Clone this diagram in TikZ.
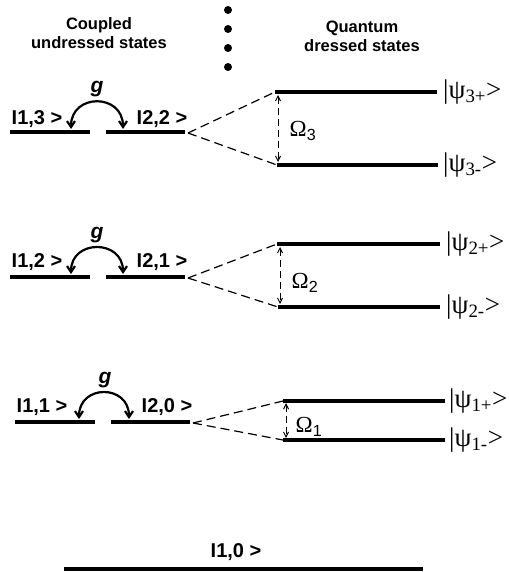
\documentclass[tikz,border=0pt]{standalone}
\usepackage{fontspec}
\setmainfont{Liberation Sans}
\newfontfamily\seriffont{Liberation Serif}
\usetikzlibrary{arrows.meta}
\tikzset{
  lvl/.style={line width=4.5pt},
  dashln/.style={line width=1.2pt, dash pattern=on 9pt off 5pt},
  omarrow/.style={line width=1pt, dash pattern=on 7pt off 4pt, {Straight Barb[length=5pt,width=5pt]}-{Straight Barb[length=5pt,width=5pt]}},
  coup/.style={line width=2.2pt, {Straight Barb[length=6pt,width=8pt]}-{Straight Barb[length=6pt,width=8pt]}},
  ket/.style={font=\bfseries\fontsize{20}{20}\selectfont, inner sep=0pt},
  gl/.style={font=\bfseries\itshape\fontsize{21}{21}\selectfont, inner sep=0pt},
  title/.style={font=\bfseries\fontsize{16.5}{19}\selectfont, align=center, inner sep=0pt},
  psil/.style={font=\seriffont\fontsize{27}{27}\selectfont, anchor=west, inner sep=0pt},
  oml/.style={font=\fontsize{23}{23}\selectfont, inner sep=0pt},
  dot/.style={circle, fill=black, inner sep=0pt, minimum size=8pt},
}
\begin{document}
\begin{tikzpicture}[x=1pt,y=-1pt]
\useasboundingbox (0,0) rectangle (508,572);
% titles
\node[title] (t1) at (99,33) {Coupled\\undressed states};
\node[title] (t2) at (362,36) {Quantum\\dressed states};
% dots
\foreach \i/\yy in {1/10,2/29,3/48,4/67} \node[dot] (d\i) at (228,\yy) {};
% ---------------- level 3
\coordinate (a3l) at (10,132); \coordinate (a3r) at (90,132);
\coordinate (b3l) at (106,132); \coordinate (b3r) at (185,132);
\coordinate (p3l) at (275,92); \coordinate (p3r) at (437,92);
\coordinate (m3l) at (277,165); \coordinate (m3r) at (438,165);
\draw[lvl] (a3l) -- (a3r); \draw[lvl] (b3l) -- (b3r);
\draw[lvl] (p3l) -- (p3r); \draw[lvl] (m3l) -- (m3r);
\node[ket] (k13) at (37,119) {I1,3 >};
\node[ket] (k22) at (162,119) {I2,2 >};
\node[gl] (g3) at (97,89) {g};
\coordinate (c3a) at (71,129); \coordinate (c3b) at (123,129);
\draw[coup] (c3a) .. controls (71,93) and (123,93) .. (c3b);
\coordinate (d3) at (188,133);
\draw[dashln] (d3) -- (p3l); \draw[dashln] (d3) -- (m3l);
\coordinate (o3a) at (278,95); \coordinate (o3b) at (278,162);
\draw[omarrow] (o3a) -- (o3b);
\node[oml] (w3) at (303,131) {{\seriffont Ω}\textsubscript{3}};
\node[psil] (s3p) at (443,92) {|ψ\textsubscript{3+}>};
\node[psil] (s3m) at (443,165) {|ψ\textsubscript{3-}>};
% ---------------- level 2
\coordinate (a2l) at (10,277); \coordinate (a2r) at (90,277);
\coordinate (b2l) at (106,277); \coordinate (b2r) at (185,277);
\coordinate (p2l) at (277,244); \coordinate (p2r) at (440,244);
\coordinate (m2l) at (278,307); \coordinate (m2r) at (440,307);
\draw[lvl] (a2l) -- (a2r); \draw[lvl] (b2l) -- (b2r);
\draw[lvl] (p2l) -- (p2r); \draw[lvl] (m2l) -- (m2r);
\node[ket] (k12) at (37,262) {I1,2 >};
\node[ket] (k21) at (162,262) {I2,1 >};
\node[gl] (g2) at (97,235) {g};
\coordinate (c2a) at (71,274); \coordinate (c2b) at (123,274);
\draw[coup] (c2a) .. controls (71,239) and (123,239) .. (c2b);
\coordinate (d2) at (188,278);
\draw[dashln] (d2) -- (p2l); \draw[dashln] (d2) -- (m2l);
\coordinate (o2a) at (280,247); \coordinate (o2b) at (280,304);
\draw[omarrow] (o2a) -- (o2b);
\node[oml] (w2) at (305,283) {{\seriffont Ω}\textsubscript{2}};
\node[psil] (s2p) at (446,244) {|ψ\textsubscript{2+}>};
\node[psil] (s2m) at (446,307) {|ψ\textsubscript{2-}>};
% ---------------- level 1
\coordinate (a1l) at (15,422); \coordinate (a1r) at (95,422);
\coordinate (b1l) at (111,422); \coordinate (b1r) at (190,422);
\coordinate (p1l) at (283,401); \coordinate (p1r) at (445,401);
\coordinate (m1l) at (283,440); \coordinate (m1r) at (445,440);
\draw[lvl] (a1l) -- (a1r); \draw[lvl] (b1l) -- (b1r);
\draw[lvl] (p1l) -- (p1r); \draw[lvl] (m1l) -- (m1r);
\node[ket] (k11) at (42,407) {I1,1 >};
\node[ket] (k20) at (167,407) {I2,0 >};
\node[gl] (g1) at (105,380) {g};
\coordinate (c1a) at (79,419); \coordinate (c1b) at (129,419);
\draw[coup] (c1a) .. controls (79,384) and (129,384) .. (c1b);
\coordinate (d1) at (193,423);
\draw[dashln] (d1) -- (p1l); \draw[dashln] (d1) -- (m1l);
\coordinate (o1a) at (286,403); \coordinate (o1b) at (286,438);
\draw[omarrow] (o1a) -- (o1b);
\node[oml] (w1) at (309,427) {{\seriffont Ω}\textsubscript{1}};
\node[psil] (s1p) at (449,401) {|ψ\textsubscript{1+}>};
\node[psil] (s1m) at (449,440) {|ψ\textsubscript{1-}>};
% ---------------- ground
\coordinate (gl0) at (64,569); \coordinate (gr0) at (423,569);
\draw[lvl] (gl0) -- (gr0);
\node[ket] (k10) at (236,552) {I1,0 >};
\end{tikzpicture}
\end{document}
